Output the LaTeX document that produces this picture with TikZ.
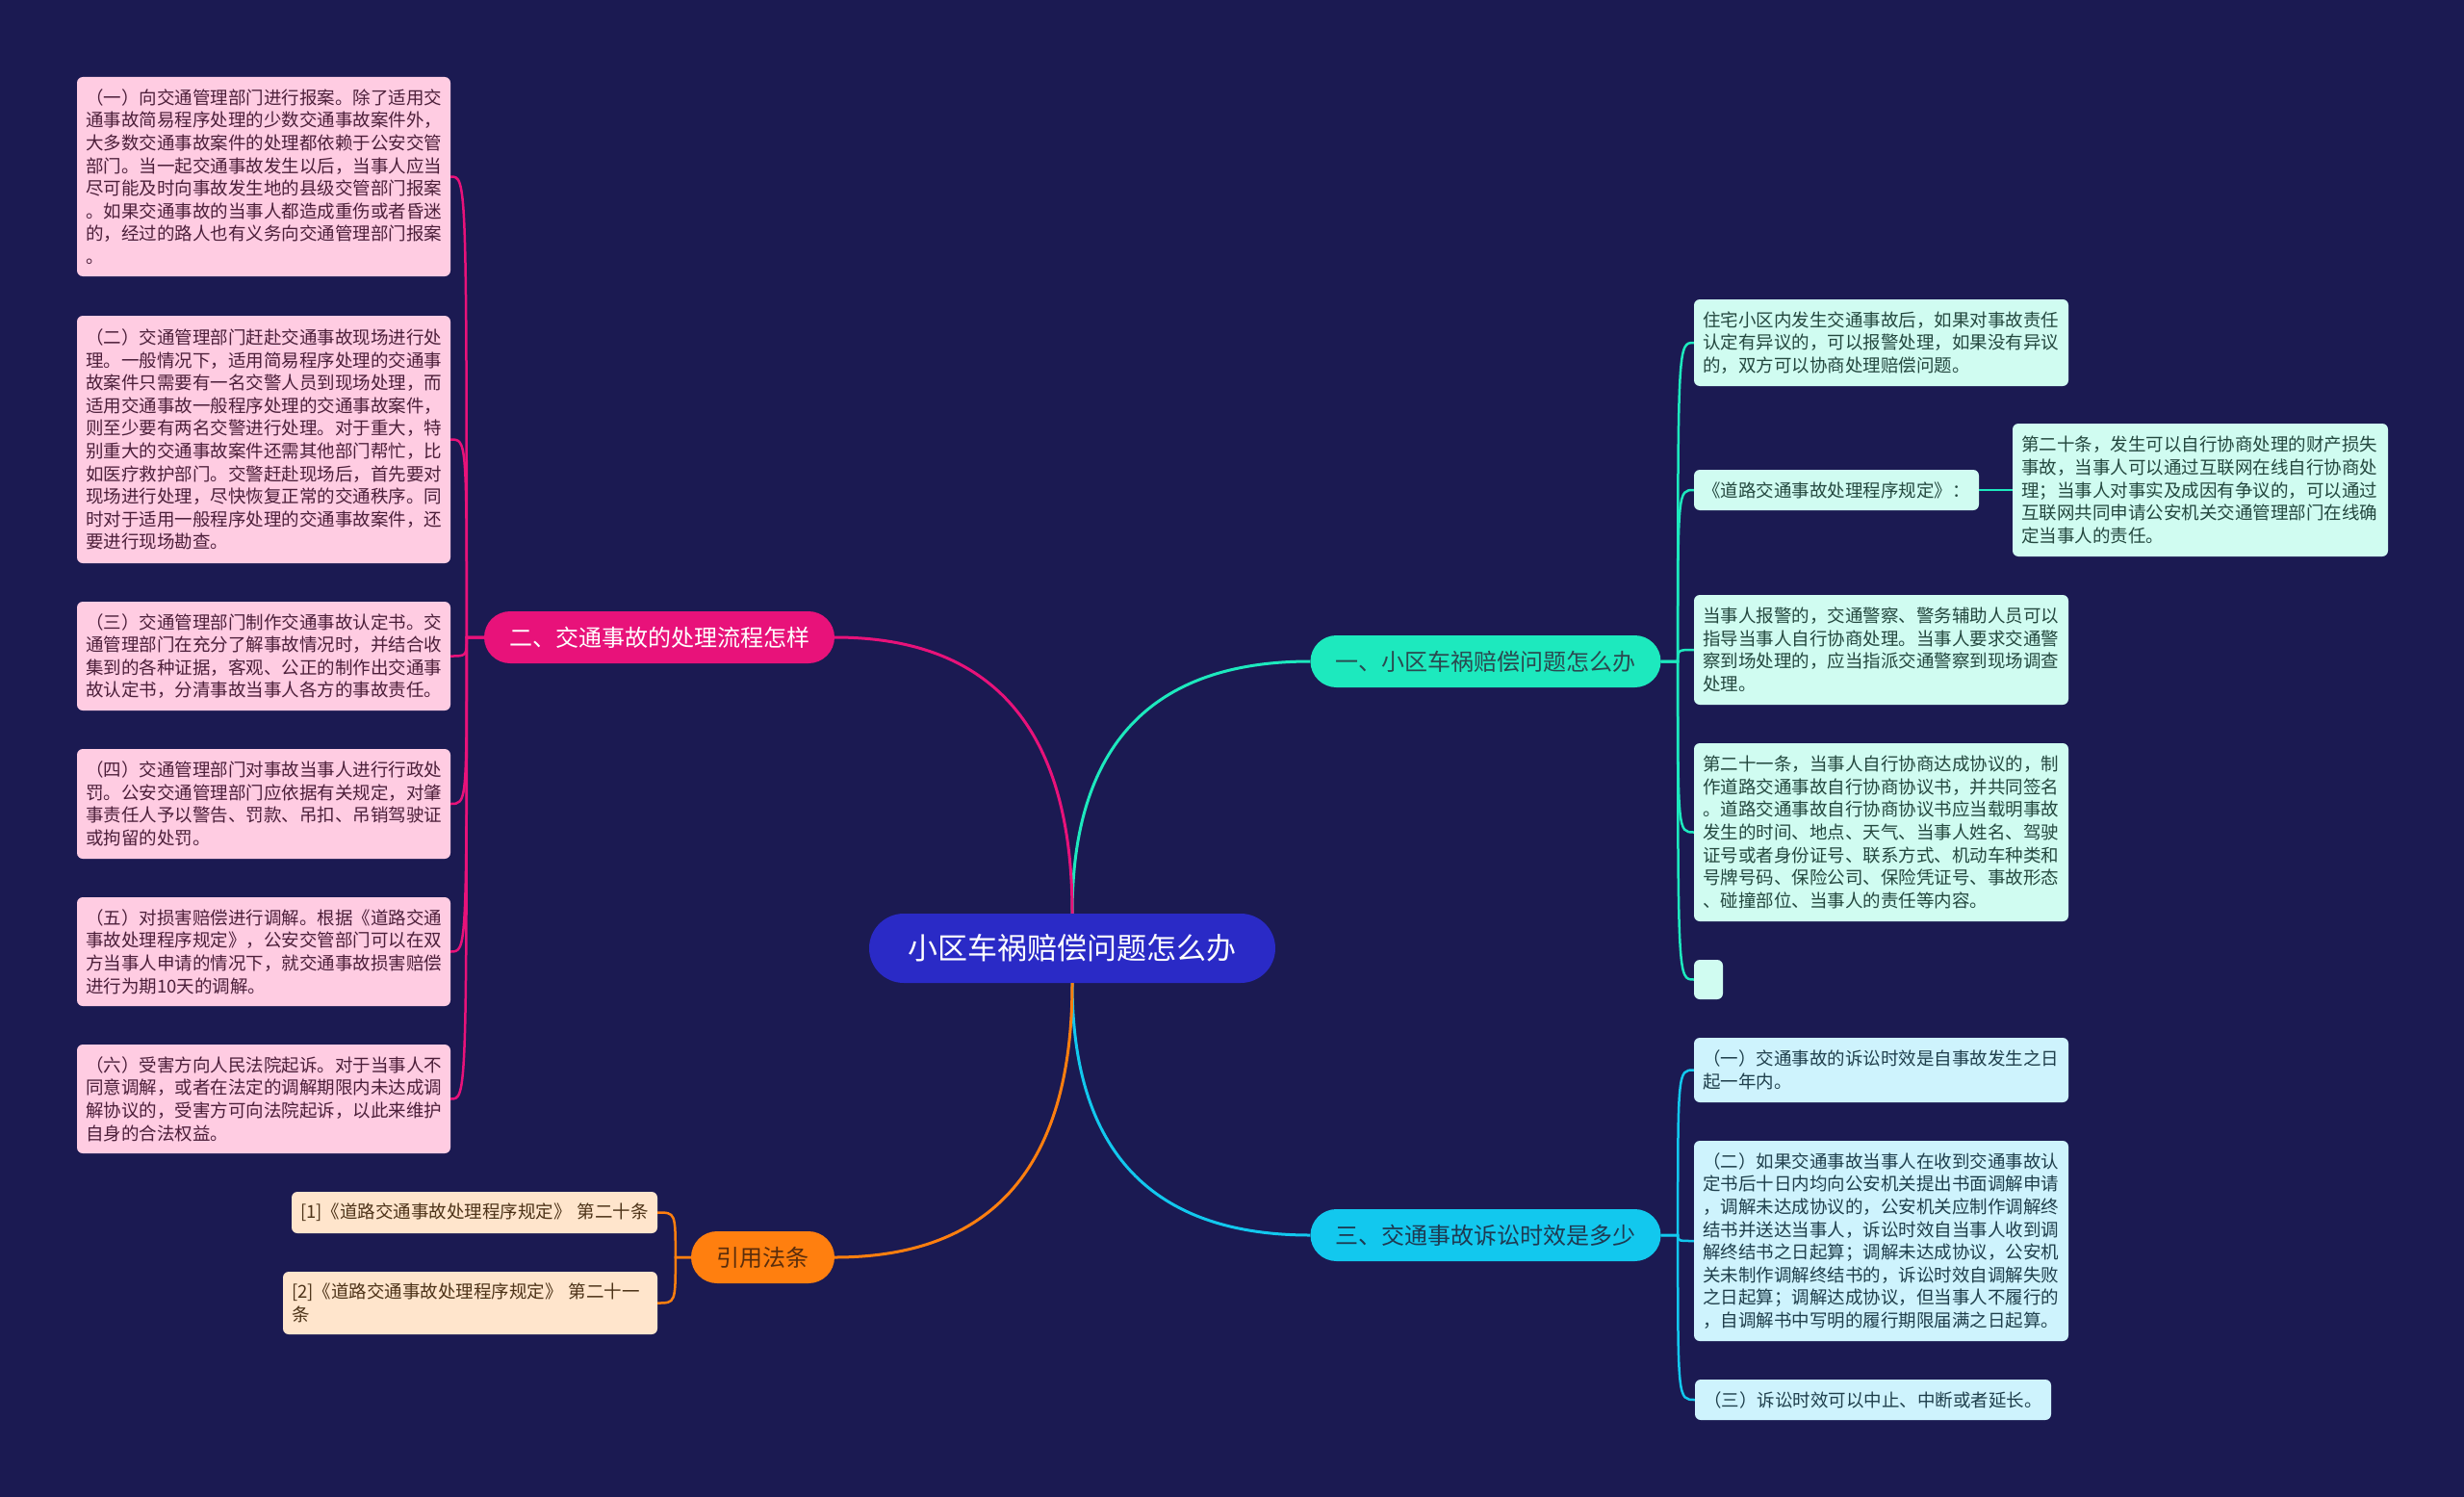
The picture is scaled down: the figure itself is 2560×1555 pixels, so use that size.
\documentclass[tikz,border=0pt]{standalone}
\usepackage{fontspec}
\setmainfont{Noto Sans CJK SC}
\usetikzlibrary{calc}
\definecolor{bg}{HTML}{1B1A52}
\definecolor{rootc}{HTML}{2A2AC6}
\definecolor{cA}{HTML}{1DE9BE}
\definecolor{cB}{HTML}{E8127A}
\definecolor{cC}{HTML}{12C8EE}
\definecolor{cD}{HTML}{FF7F0F}
\definecolor{fA}{HTML}{D0FCF1}
\definecolor{fB}{HTML}{FFCCE2}
\definecolor{fC}{HTML}{CEF3FD}
\definecolor{fD}{HTML}{FFE5CC}
\definecolor{tA}{HTML}{24483F}
\definecolor{tB}{HTML}{4C1F3A}
\definecolor{tC}{HTML}{1F3F4C}
\definecolor{tD}{HTML}{4D3318}
\definecolor{btA}{HTML}{2A4A50}
\definecolor{btC}{HTML}{1E3A52}
\definecolor{btD}{HTML}{5A2D0C}
\tikzset{
  rootbox/.style={rectangle, fill=rootc, text=white, minimum width=422pt, minimum height=72pt, rounded corners=36pt, inner sep=0pt, font=\fontsize{31}{36}\selectfont},
  branchbox/.style={rectangle, minimum height=54pt, rounded corners=27pt, inner sep=0pt, font=\fontsize{24}{28}\selectfont},
  leafbox/.style={rectangle, rounded corners=6pt, inner xsep=9pt, inner ysep=0pt, align=left, font=\fontsize{18.5}{23.6}\selectfont},
  pinkleaf/.style={leafbox, fill=fB, text=tB, text width=370pt},
  mintleaf/.style={leafbox, fill=fA, text=tA, text width=371pt},
  cyanleaf/.style={leafbox, fill=fC, text=tC, text width=371pt},
  peachleaf/.style={leafbox, fill=fD, text=tD},
  mainline/.style={line width=3pt},
  leafline/.style={line width=2.5pt},
}
\begin{document}
\begin{tikzpicture}[x=1pt,y=-1pt]
\fill[bg] (0,0) rectangle (2560,1555);
\useasboundingbox (0,0) rectangle (2560,1555);

% root and branches
\node[rootbox] (root) at (1114,985) {小区车祸赔偿问题怎么办};
\node[branchbox, fill=cA, text=btA, minimum width=364pt] (b1) at (1543.5,687) {一、小区车祸赔偿问题怎么办};
\node[branchbox, fill=cB, text=white, minimum width=364pt] (b2) at (685,662) {二、交通事故的处理流程怎样};
\node[branchbox, fill=cC, text=btC, minimum width=364pt] (b3) at (1543.5,1283) {三、交通事故诉讼时效是多少};
\node[branchbox, fill=cD, text=btD, minimum width=149pt] (b4) at (792.5,1306) {引用法条};

% left pink leaves
\node[pinkleaf, minimum height=207pt] (L1) at (274,183.5) {（一）向交通管理部门进行报案。除了适用交\\通事故简易程序处理的少数交通事故案件外，\\大多数交通事故案件的处理都依赖于公安交管\\部门。当一起交通事故发生以后，当事人应当\\尽可能及时向事故发生地的县级交管部门报案\\。如果交通事故的当事人都造成重伤或者昏迷\\的，经过的路人也有义务向交通管理部门报案\\。};
\node[pinkleaf, minimum height=257pt] (L2) at (274,456.5) {（二）交通管理部门赶赴交通事故现场进行处\\理。一般情况下，适用简易程序处理的交通事\\故案件只需要有一名交警人员到现场处理，而\\适用交通事故一般程序处理的交通事故案件，\\则至少要有两名交警进行处理。对于重大，特\\别重大的交通事故案件还需其他部门帮忙，比\\如医疗救护部门。交警赶赴现场后，首先要对\\现场进行处理，尽快恢复正常的交通秩序。同\\时对于适用一般程序处理的交通事故案件，还\\要进行现场勘查。};
\node[pinkleaf, minimum height=113pt] (L3) at (274,681.5) {（三）交通管理部门制作交通事故认定书。交\\通管理部门在充分了解事故情况时，并结合收\\集到的各种证据，客观、公正的制作出交通事\\故认定书，分清事故当事人各方的事故责任。};
\node[pinkleaf, minimum height=114pt] (L4) at (274,835) {（四）交通管理部门对事故当事人进行行政处\\罚。公安交通管理部门应依据有关规定，对肇\\事责任人予以警告、罚款、吊扣、吊销驾驶证\\或拘留的处罚。};
\node[pinkleaf, minimum height=113pt] (L5) at (274,988.5) {（五）对损害赔偿进行调解。根据《道路交通\\事故处理程序规定》，公安交管部门可以在双\\方当事人申请的情况下，就交通事故损害赔偿\\进行为期10天的调解。};
\node[pinkleaf, minimum height=113pt] (L6) at (274,1141.5) {（六）受害方向人民法院起诉。对于当事人不\\同意调解，或者在法定的调解期限内未达成调\\解协议的，受害方可向法院起诉，以此来维护\\自身的合法权益。};

% orange leaves
\node[peachleaf, text width=362pt, minimum height=43pt] (O1) at (493,1259.5) {[1]《道路交通事故处理程序规定》~第二十条};
\node[peachleaf, text width=371pt, minimum height=65pt] (O2) at (488.5,1353.5) {[2]《道路交通事故处理程序规定》~第二十一\\条};

% right mint leaves
\node[mintleaf, minimum height=90pt] (R1) at (1954.5,356) {住宅小区内发生交通事故后，如果对事故责任\\认定有异议的，可以报警处理，如果没有异议\\的，双方可以协商处理赔偿问题。};
\node[mintleaf, text width=278pt, minimum height=42pt] (R2) at (1908,509) {《道路交通事故处理程序规定》：};
\node[mintleaf, text width=372pt, minimum height=138pt] (R2c) at (2286,509) {第二十条，发生可以自行协商处理的财产损失\\事故，当事人可以通过互联网在线自行协商处\\理；当事人对事实及成因有争议的，可以通过\\互联网共同申请公安机关交通管理部门在线确\\定当事人的责任。};
\node[mintleaf, minimum height=114pt] (R3) at (1954.5,675) {当事人报警的，交通警察、警务辅助人员可以\\指导当事人自行协商处理。当事人要求交通警\\察到场处理的，应当指派交通警察到现场调查\\处理。};
\node[mintleaf, minimum height=185pt] (R4) at (1954.5,864.5) {第二十一条，当事人自行协商达成协议的，制\\作道路交通事故自行协商协议书，并共同签名\\。道路交通事故自行协商协议书应当载明事故\\发生的时间、地点、天气、当事人姓名、驾驶\\证号或者身份证号、联系方式、机动车种类和\\号牌号码、保险公司、保险凭证号、事故形态\\、碰撞部位、当事人的责任等内容。};
\node[mintleaf, text width=12pt, minimum height=41pt] (R5) at (1775,1017.5) {};

% right cyan leaves
\node[cyanleaf, minimum height=67pt] (S1) at (1954.5,1111.5) {（一）交通事故的诉讼时效是自事故发生之日\\起一年内。};
\node[cyanleaf, minimum height=208pt] (S2) at (1954.5,1289) {（二）如果交通事故当事人在收到交通事故认\\定书后十日内均向公安机关提出书面调解申请\\，调解未达成协议的，公安机关应制作调解终\\结书并送达当事人，诉讼时效自当事人收到调\\解终结书之日起算；调解未达成协议，公安机\\关未制作调解终结书的，诉讼时效自调解失败\\之日起算；调解达成协议，但当事人不履行的\\，自调解书中写明的履行期限届满之日起算。};
\node[cyanleaf, text width=352pt, minimum height=42pt] (S3) at (1946,1454) {（三）诉讼时效可以中止、中断或者延长。};

% root to branches
\draw[mainline, cA] (root.north) .. controls ($(root.north)!0.667!(root.north|-b1.west)$) and ($(b1.west)!0.667!(root.north|-b1.west)$) .. (b1.west);
\draw[mainline, cB] (root.north) .. controls ($(root.north)!0.667!(root.north|-b2.east)$) and ($(b2.east)!0.667!(root.north|-b2.east)$) .. (b2.east);
\draw[mainline, cC] (root.south) .. controls ($(root.south)!0.667!(root.south|-b3.west)$) and ($(b3.west)!0.667!(root.south|-b3.west)$) .. (b3.west);
\draw[mainline, cD] (root.south) .. controls ($(root.south)!0.667!(root.south|-b4.east)$) and ($(b4.east)!0.667!(root.south|-b4.east)$) .. (b4.east);

% junctions
\coordinate (j1) at ($(b1.east)+(17.5,0)$);
\coordinate (j2) at ($(b2.west)+(-18,0)$);
\coordinate (j3) at ($(b3.east)+(17.5,0)$);
\coordinate (j4) at ($(b4.west)+(-16,0)$);

% branch 1 leaves
\foreach \n in {R1,R2,R3,R4,R5}
  \draw[leafline, cA] (b1.east) -- (j1) .. controls (j1|-\n.west) .. (\n.west);
\draw[leafline, cA] (R2.east) -- (R2c.west);
% branch 2 leaves
\foreach \n in {L1,L2,L3,L4,L5,L6}
  \draw[leafline, cB] (b2.west) -- (j2) .. controls (j2|-\n.east) .. (\n.east);
% branch 3 leaves
\foreach \n in {S1,S2,S3}
  \draw[leafline, cC] (b3.east) -- (j3) .. controls (j3|-\n.west) .. (\n.west);
% branch 4 leaves
\foreach \n in {O1,O2}
  \draw[leafline, cD] (b4.west) -- (j4) .. controls (j4|-\n.east) .. (\n.east);
\end{tikzpicture}
\end{document}
